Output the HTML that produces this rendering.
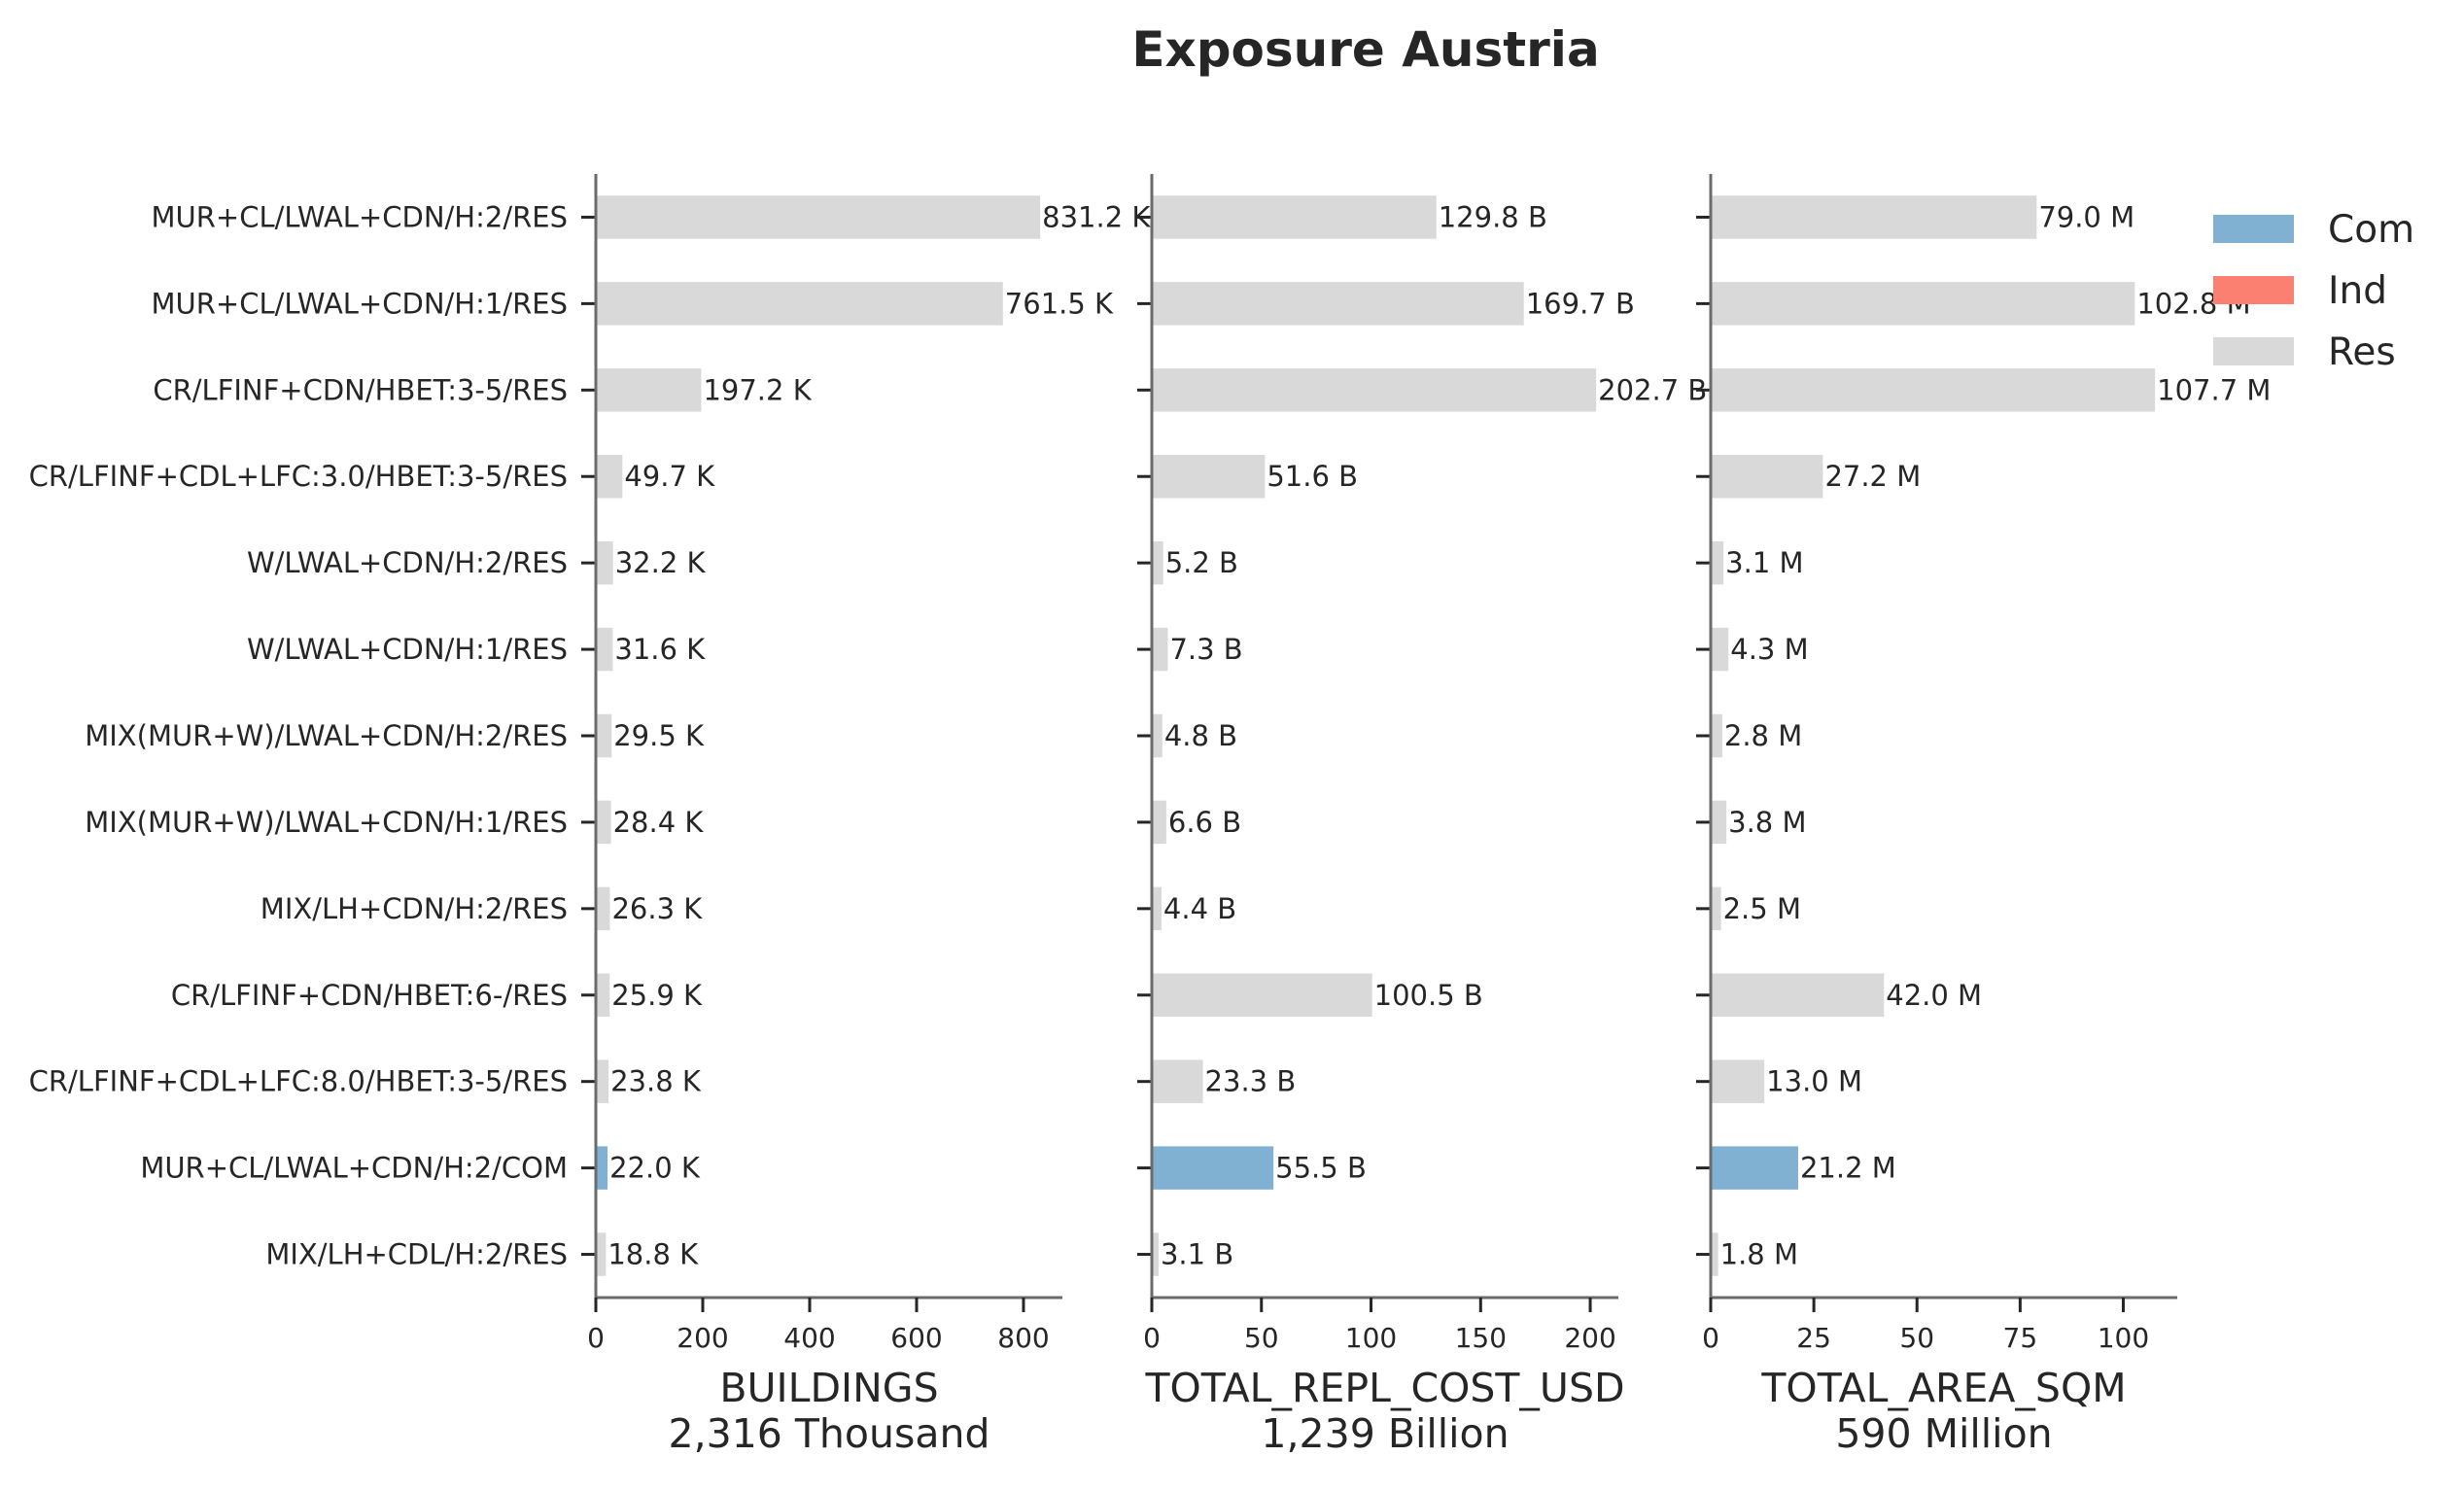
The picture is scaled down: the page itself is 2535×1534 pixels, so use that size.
<!DOCTYPE html>
<html><head><meta charset="utf-8"><style>
html,body{margin:0;padding:0;background:#fff;}
svg text{font-family:"DejaVu Sans","Liberation Sans",sans-serif;fill:#262626;}
</style></head><body>
<svg id="chart" width="2535" height="1529" viewBox="0 0 2535 1529" xmlns="http://www.w3.org/2000/svg">
<text x="1405" y="68" text-anchor="middle" font-size="50" font-weight="bold">Exposure Austria</text>
<g id="panels"></g>
<g>
<rect x="2277" y="221" width="83" height="29" fill="#80b1d3"/>
<text x="2395" y="249" font-size="39">Com</text>
<rect x="2277" y="284" width="83" height="29" fill="#fb8072"/>
<text x="2395" y="312" font-size="39">Ind</text>
<rect x="2277" y="347" width="83" height="29" fill="#d9d9d9"/>
<text x="2395" y="375" font-size="39">Res</text>
</g>
</svg>
<script>
const categories = ["MUR+CL/LWAL+CDN/H:2/RES","MUR+CL/LWAL+CDN/H:1/RES","CR/LFINF+CDN/HBET:3-5/RES","CR/LFINF+CDL+LFC:3.0/HBET:3-5/RES","W/LWAL+CDN/H:2/RES","W/LWAL+CDN/H:1/RES","MIX(MUR+W)/LWAL+CDN/H:2/RES","MIX(MUR+W)/LWAL+CDN/H:1/RES","MIX/LH+CDN/H:2/RES","CR/LFINF+CDN/HBET:6-/RES","CR/LFINF+CDL+LFC:8.0/HBET:3-5/RES","MUR+CL/LWAL+CDN/H:2/COM","MIX/LH+CDL/H:2/RES"];
const occupancy = ["Res","Res","Res","Res","Res","Res","Res","Res","Res","Res","Res","Com","Res"];
const buildings = [831.2,761.5,197.2,49.7,32.2,31.6,29.5,28.4,26.3,25.9,23.8,22.0,18.8];
const replCost = [129.8,169.7,202.7,51.6,5.2,7.3,4.8,6.6,4.4,100.5,23.3,55.5,3.1];
const areaSqm = [79.0,102.8,107.7,27.2,3.1,4.3,2.8,3.8,2.5,42.0,13.0,21.2,1.8];
const buildingsTicks = [0,200,400,600,800];
const replTicks = [0,50,100,150,200];
const areaTicks = [0,25,50,75,100];
const panelTitles = ["BUILDINGS","TOTAL_REPL_COST_USD","TOTAL_AREA_SQM"];
const panelTotals = ["2,316 Thousand","1,239 Billion","590 Million"];
const units = ["K","B","M"];

const colors = {Res:"#d9d9d9", Com:"#80b1d3", Ind:"#fb8072"};
const NS = "http://www.w3.org/2000/svg";
const g = document.getElementById("panels");
const top0 = 179, bot0 = 1335, W = 480;
const lefts = [613,1185,1760];
const series = [buildings, replCost, areaSqm];
const ticksAll = [buildingsTicks, replTicks, areaTicks];
const names = ["buildings","repl-cost","area"];
function mk(tag, attrs){const e=document.createElementNS(NS,tag);for(const k in attrs)e.setAttribute(k,attrs[k]);return e;}
const n = categories.length;
const step = (bot0-top0)/n;
function yC(i){return top0+(i+0.5)*step;}
series.forEach((vals,p)=>{
  const x0 = lefts[p];
  const xmax = Math.max(...vals)*1.05;
  const xs = v => x0 + v/xmax*W;
  const pg = mk("g",{});
  
  
  g.appendChild(pg);
  vals.forEach((v,i)=>{
    const r = mk("rect",{x:x0,y:yC(i)-step*0.25,width:xs(v)-x0,height:step*0.5,fill:colors[occupancy[i]]});
    
    
    pg.appendChild(r);
    const t = mk("text",{x:xs(v)+2,y:yC(i)+10,"font-size":29});
    t.textContent = v.toFixed(1)+" "+units[p];
    
    
    pg.appendChild(t);
    const tk = mk("line",{x1:x0-15,x2:x0,y1:yC(i),y2:yC(i),stroke:"#262626","stroke-width":3});
    
    
    pg.appendChild(tk);
    if(p===0){
      const lb = mk("text",{x:584,y:yC(i)+10,"font-size":29,"text-anchor":"end"});
      lb.textContent = categories[i];
      
      
      pg.appendChild(lb);
    }
  });
  const ys = mk("line",{x1:x0,x2:x0,y1:top0,y2:bot0,stroke:"#6b6b6b","stroke-width":3});
  
  
  pg.appendChild(ys);
  const xsp = mk("line",{x1:x0,x2:x0+W,y1:bot0,y2:bot0,stroke:"#6b6b6b","stroke-width":3});
  
  
  pg.appendChild(xsp);
  ticksAll[p].forEach((tv,k)=>{
    const l = mk("line",{x1:xs(tv),x2:xs(tv),y1:bot0,y2:bot0+15,stroke:"#262626","stroke-width":3});
    
    
    pg.appendChild(l);
    const t = mk("text",{x:xs(tv),y:1386,"font-size":28,"text-anchor":"middle"});
    t.textContent = tv;
    
    
    pg.appendChild(t);
  });
  const t1 = mk("text",{x:x0+W/2,y:1442,"font-size":41,"text-anchor":"middle"});
  t1.textContent = panelTitles[p];
  
  
  pg.appendChild(t1);
  const t2 = mk("text",{x:x0+W/2,y:1489,"font-size":41,"text-anchor":"middle"});
  t2.textContent = panelTotals[p];
  
  
  pg.appendChild(t2);
});
</script>
</body></html>
